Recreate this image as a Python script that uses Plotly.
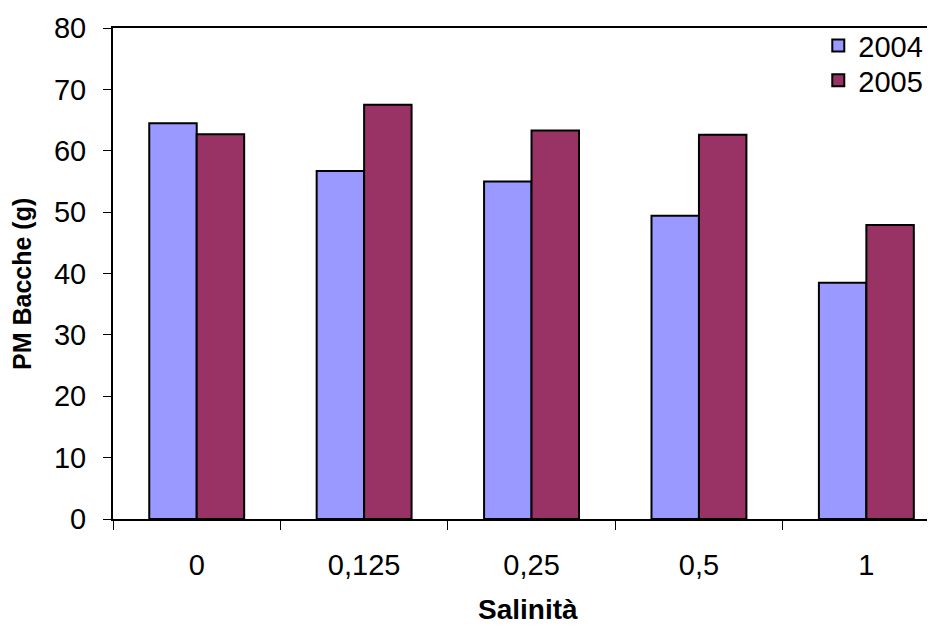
import plotly.graph_objects as go

categories = ["0", "0,125", "0,25", "0,5", "1"]
series_2004 = [64.5, 56.7, 55.0, 49.4, 38.5]
series_2005 = [62.7, 67.5, 63.3, 62.6, 47.9]
y_ticks = [0, 10, 20, 30, 40, 50, 60, 70, 80]

FONT = "Liberation Sans, Arial, sans-serif"

fig = go.Figure()
fig.add_trace(go.Bar(name="2004", x=categories, y=series_2004, legend="legend",
                     marker=dict(color="#9999FF", line=dict(color="black", width=2))))
fig.add_trace(go.Bar(name="2005", x=categories, y=series_2005, legend="legend2",
                     marker=dict(color="#993366", line=dict(color="black", width=2))))

legend_common = dict(xanchor="left", yanchor="top", font=dict(size=29),
                     itemwidth=30, bgcolor="rgba(0,0,0,0)")

fig.update_layout(
    width=935, height=630,
    margin=dict(l=105, r=8, t=20, b=119, autoexpand=False),
    paper_bgcolor="white", plot_bgcolor="white",
    barmode="group", bargap=0.433, bargroupgap=0,
    font=dict(family=FONT, size=29, color="black"),
    showlegend=True,
    legend=dict(x=0.858, y=1.016, **legend_common),
    legend2=dict(x=0.858, y=0.945, **legend_common),
    xaxis=dict(type="category", range=[-0.5, 4.41], automargin=False,
               showline=True, linecolor="black", linewidth=2, mirror=True,
               ticks="outside", ticklen=9, tickcolor="black", tickwidth=1,
               tickson="boundaries", ticklabelstandoff=19,
               showgrid=False, zeroline=False,
               tickfont=dict(size=29)),
    yaxis=dict(range=[0, 80], tickvals=y_ticks, automargin=False,
               showline=True, linecolor="black", linewidth=2,
               ticks="outside", ticklen=8, tickcolor="black", tickwidth=1,
               showgrid=False, zeroline=False, ticklabelstandoff=11,
               tickfont=dict(size=29)),
    annotations=[
        dict(text="<b>Salinità</b>", x=0.505, y=-0.1853,
             xref="paper", yref="paper", showarrow=False,
             font=dict(size=28), xanchor="center", yanchor="middle"),
        dict(text="<b>PM Bacche (g)</b>", x=-0.1107, y=0.4786,
             xref="paper", yref="paper", showarrow=False, textangle=-90,
             font=dict(size=25), xanchor="center", yanchor="middle"),
    ],
)

fig.write_html("out.html")
